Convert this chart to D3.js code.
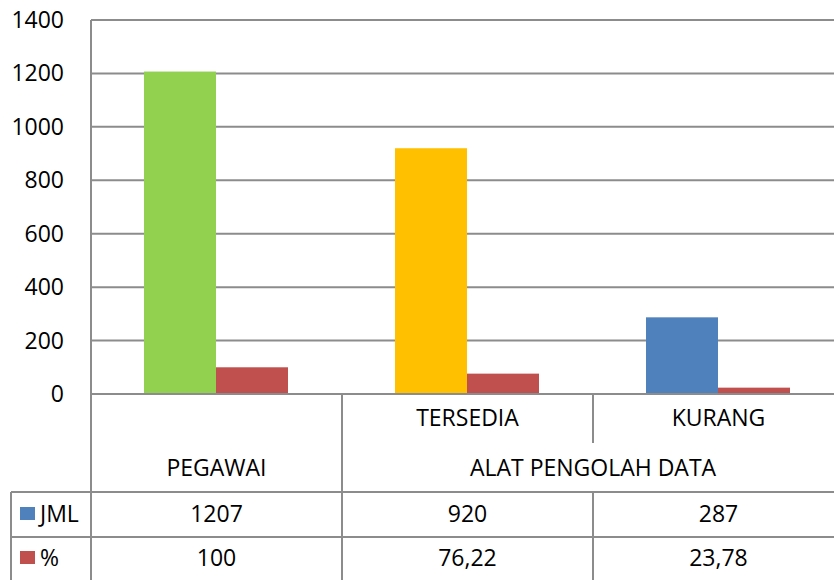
<!DOCTYPE html>
<html>
<head>
<meta charset="utf-8">
<script src="https://cdn.jsdelivr.net/npm/d3@7"></script>
<style>
  body { margin: 0; background: #fff; }
  text { font-family: "Open Sans", sans-serif; fill: #000; font-size: 23px; }
</style>
</head>
<body>
<div id="chart"></div>
<script>
var categories = ["PEGAWAI", "TERSEDIA", "KURANG"]
var groupLabels = ["", "TERSEDIA", "KURANG"]
var parentLabels = ["PEGAWAI", "ALAT PENGOLAH DATA"]
var series = ["JML", "%"]
var jml = [1207, 920, 287]
var pct = [100, 76.22, 23.78]
var jmlText = ["1207", "920", "287"]
var pctText = ["100", "76,22", "23,78"]
var yTicks = [0, 200, 400, 600, 800, 1000, 1200, 1400]

var width = 834, height = 580
var plot = {left: 91, right: 844, top: 20, bottom: 394}
var tableLeft = 11
var rowLines = [492, 537]
var gridColor = "#8c8c8c"
var jmlColors = ["#92D050", "#FFC000", "#4F81BD"]
var seriesColors = {"JML": "#4F81BD", "%": "#C0504D"}

var svg = d3.select("#chart")
  .append("svg")
    .attr("width", width)
    .attr("height", height)

var x = d3.scaleBand()
  .domain(categories)
  .range([plot.left, plot.right])
  .padding(0)

var xs = d3.scaleBand()
  .domain(series)
  .range([53, 197])
  .padding(0)

var y = d3.scaleLinear()
  .domain([0, 1400])
  .range([plot.bottom, plot.top])

// gridlines
svg.selectAll("grid")
  .data(yTicks)
  .enter()
  .append("line")
    .attr("x1", plot.left)
    .attr("x2", width)
    .attr("y1", function(d) { return y(d) })
    .attr("y2", function(d) { return y(d) })
    .attr("stroke", gridColor)
    .attr("stroke-width", 2)

// y labels
svg.selectAll("ylab")
  .data(yTicks)
  .enter()
  .append("text")
    .attr("x", 64)
    .attr("y", function(d) { return y(d) })
    .attr("dy", "0.35em")
    .attr("text-anchor", "end")
    .text(function(d) { return d })

var data = categories.map(function(c, i) {
  return [
    {cat: c, s: "JML", v: jml[i], color: jmlColors[i]},
    {cat: c, s: "%", v: pct[i], color: seriesColors["%"]}
  ]
}).flat()

svg.selectAll("bars")
  .data(data)
  .enter()
  .append("rect")
    .attr("x", function(d) { return x(d.cat) + xs(d.s) })
    .attr("y", function(d) { return y(d.v) })
    .attr("width", xs.bandwidth())
    .attr("height", function(d) { return y(0) - y(d.v) })
    .attr("fill", function(d) { return d.color })

// axis line + left line
svg.append("line")
  .attr("x1", plot.left).attr("x2", width)
  .attr("y1", plot.bottom).attr("y2", plot.bottom)
  .attr("stroke", gridColor).attr("stroke-width", 2)
svg.append("line")
  .attr("x1", plot.left).attr("x2", plot.left)
  .attr("y1", plot.top).attr("y2", height)
  .attr("stroke", gridColor).attr("stroke-width", 2)

// table lines
svg.selectAll("rowline")
  .data(rowLines)
  .enter()
  .append("line")
    .attr("x1", tableLeft).attr("x2", width)
    .attr("y1", function(d) { return d }).attr("y2", function(d) { return d })
    .attr("stroke", gridColor).attr("stroke-width", 2)
svg.append("line")
  .attr("x1", tableLeft).attr("x2", tableLeft)
  .attr("y1", rowLines[0]).attr("y2", height)
  .attr("stroke", gridColor).attr("stroke-width", 2)
// separator between PEGAWAI and ALAT
svg.append("line")
  .attr("x1", x("TERSEDIA")).attr("x2", x("TERSEDIA"))
  .attr("y1", plot.bottom).attr("y2", height)
  .attr("stroke", gridColor).attr("stroke-width", 2)
// separator between TERSEDIA and KURANG (broken at the parent row)
svg.append("line")
  .attr("x1", x("KURANG")).attr("x2", x("KURANG"))
  .attr("y1", plot.bottom).attr("y2", 443)
  .attr("stroke", gridColor).attr("stroke-width", 2)
svg.append("line")
  .attr("x1", x("KURANG")).attr("x2", x("KURANG"))
  .attr("y1", rowLines[0]).attr("y2", height)
  .attr("stroke", gridColor).attr("stroke-width", 2)

// category labels
svg.selectAll("catlab")
  .data(categories)
  .enter()
  .append("text")
    .attr("x", function(d) { return x(d) + x.bandwidth() / 2 })
    .attr("y", 418)
    .attr("dy", "0.35em")
    .attr("text-anchor", "middle")
    .text(function(d, i) { return groupLabels[i] })

svg.append("text")
  .attr("x", x("PEGAWAI") + x.bandwidth() / 2)
  .attr("y", 468).attr("dy", "0.35em")
  .attr("text-anchor", "middle")
  .text(parentLabels[0])
svg.append("text")
  .attr("x", x("KURANG"))
  .attr("y", 468).attr("dy", "0.35em")
  .attr("text-anchor", "middle")
  .text(parentLabels[1])

// data table rows
var rows = [
  {name: "JML", vals: jmlText, cy: 514},
  {name: "%", vals: pctText, cy: 558}
]
rows.forEach(function(r) {
  svg.append("rect")
    .attr("x", 20).attr("y", r.cy - 7)
    .attr("width", 15).attr("height", 13)
    .attr("fill", seriesColors[r.name])
  svg.append("text")
    .attr("x", 40).attr("y", r.cy).attr("dy", "0.35em")
    .text(r.name)
  svg.selectAll("vals")
    .data(r.vals)
    .enter()
    .append("text")
      .attr("x", function(d, i) { return x(categories[i]) + x.bandwidth() / 2 })
      .attr("y", r.cy).attr("dy", "0.35em")
      .attr("text-anchor", "middle")
      .text(function(d) { return d })
})
</script>
</body>
</html>
